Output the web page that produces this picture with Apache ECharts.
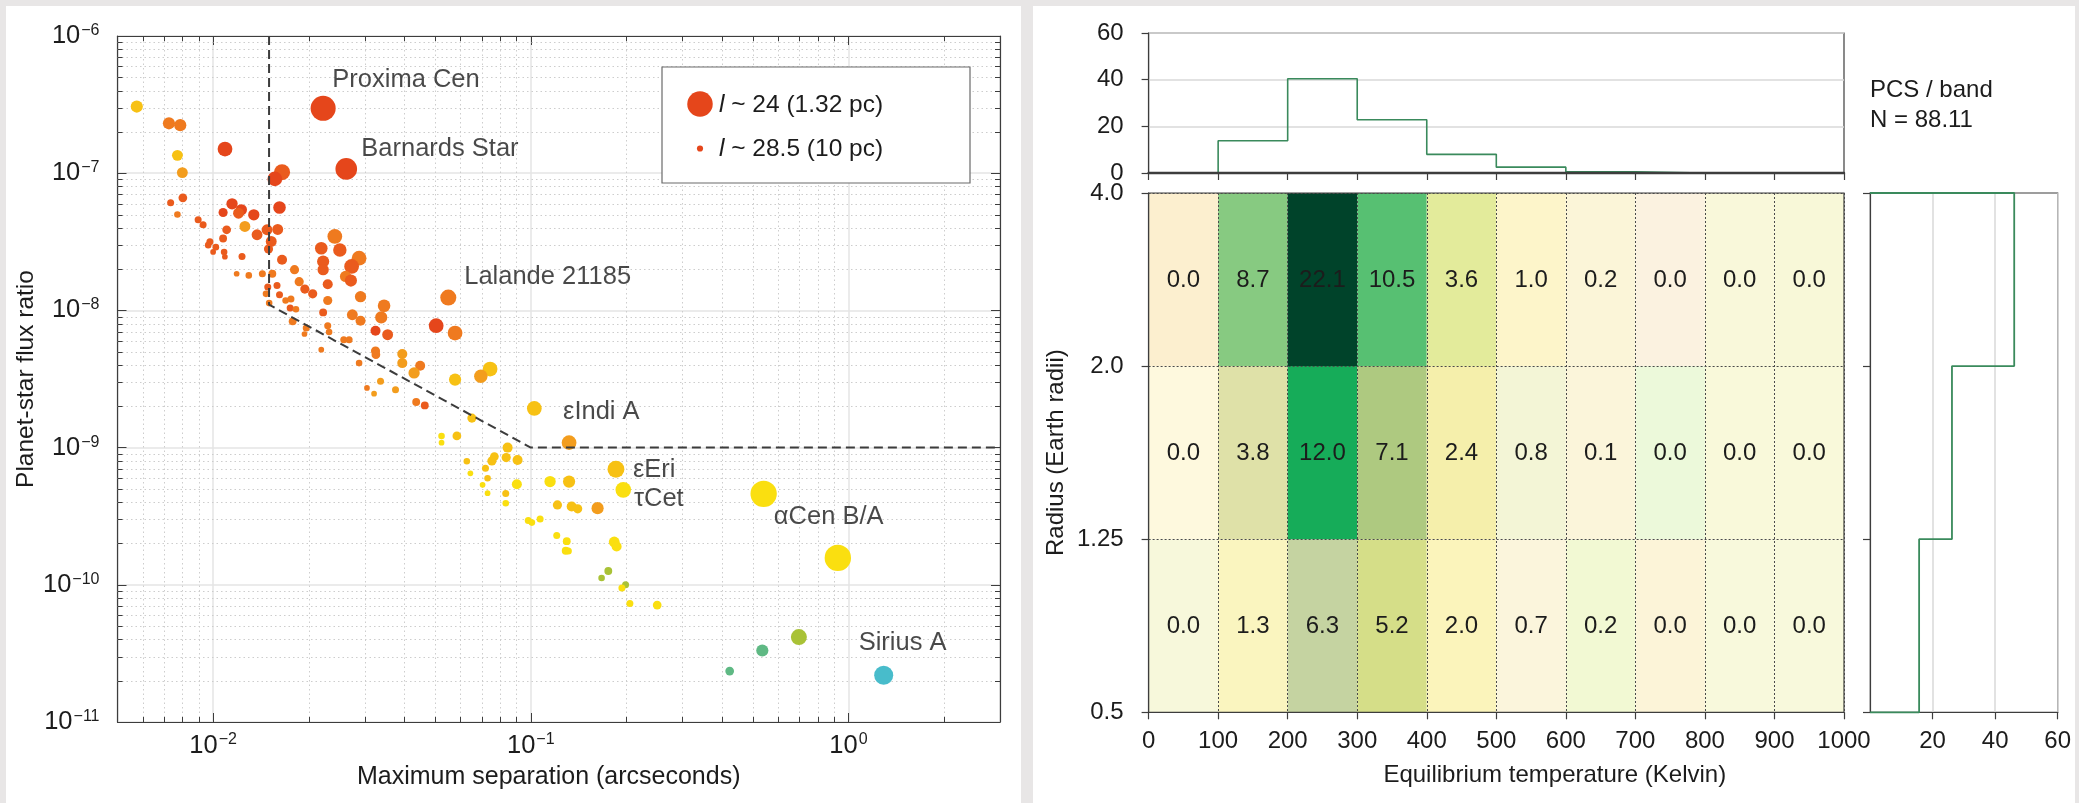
<!DOCTYPE html>
<html>
<head>
<meta charset="utf-8">
<script src="https://cdn.jsdelivr.net/npm/echarts@6/dist/echarts.min.js"></script>
<style>
html,body{margin:0;padding:0;background:#e8e6e6;}
#chart{width:2079px;height:803px;}
</style>
</head>
<body>
<div id="chart"></div>
<script>
// ---------------- DATA ----------------
// Left panel: planet-star flux ratio vs maximum separation
const separation = [
0.00575,0.00726,0.00788,0.00772,0.0109,0.0080,0.0222,0.02625,0.01648,0.01564,
0.01618,0.00735,0.00803,0.00772,0.01147,0.01075,0.01227,0.01202,0.01343,0.00897,
0.0093,0.01103,0.01259,0.01075,0.01375,0.01478,0.01597,0.01524,0.01494,0.00977,
0.00965,0.0102,0.0100,0.01083,0.01089,0.01233,0.01648,0.01186,0.01295,0.01429,
0.01536,0.01804,0.01866,0.01944,0.01486,0.01589,0.01467,0.01618,0.01501,0.01691,
0.01758,0.01748,0.01823,0.0178,0.02058,0.02416,0.02506,0.0219,0.0222,0.0222,
0.02881,0.02729,0.02612,0.02715,0.02295,0.02911,0.02295,0.0222,0.03453,0.02743,
0.02911,0.03382,0.055,0.05037,0.05777,0.03245,0.03543,0.02295,0.02318,0.01964,
0.01939,0.02578,0.0268,0.0219,0.03245,0.03254,0.0394,0.0394,0.04485,0.04292,
0.02881,0.03365,0.03751,0.0305,0.03211,0.04358,0.04638,0.07446,0.06962,0.05777,
0.1026,0.06525,0.05237,0.05237,0.05852,0.08453,0.0629,0.06454,0.072,0.07311,
0.07052,0.07311,0.07543,0.0768,0.08367,0.09087,0.0834,0.0834,0.0904,0.115,
0.0982,0.1008,0.107,0.1207,0.1213,0.132,0.132,0.1345,0.1405,0.1623,
0.1854,0.1955,0.1298,0.1288,0.1313,0.1831,0.1863,0.1754,0.1671,0.1988,
0.1936,0.2051,0.25,0.5408,0.926,0.6982,0.5356,0.4228,1.291
];
const fluxRatio = [
3.06e-7,2.31e-7,2.24e-7,1.35e-7,1.50e-7,1.01e-7,2.97e-7,1.075e-7,1.017e-7,9.09e-8,
5.62e-8,6.08e-8,6.61e-8,5.0e-8,5.98e-8,5.17e-8,5.41e-8,5.11e-8,4.97e-8,4.57e-8,
4.21e-8,3.87e-8,4.09e-8,3.34e-8,3.56e-8,3.87e-8,3.89e-8,3.18e-8,2.80e-8,3.16e-8,
2.99e-8,2.89e-8,2.67e-8,2.66e-8,2.46e-8,2.47e-8,2.34e-8,1.85e-8,1.80e-8,1.85e-8,
1.85e-8,1.98e-8,1.62e-8,1.43e-8,1.48e-8,1.52e-8,1.32e-8,1.30e-8,1.13e-8,1.18e-8,
1.21e-8,1.04e-8,1.02e-8,8.32e-9,1.32e-8,3.46e-8,2.76e-8,2.84e-8,2.27e-8,1.98e-8,
2.40e-8,2.09e-8,1.77e-8,1.65e-8,1.55e-8,1.26e-8,1.18e-8,9.67e-9,1.08e-8,9.30e-9,
8.41e-9,8.89e-9,1.24e-8,7.73e-9,6.84e-9,7.11e-9,6.65e-9,7.73e-9,6.96e-9,7.43e-9,
6.73e-9,6.11e-9,6.11e-9,5.17e-9,5.06e-9,4.76e-9,4.81e-9,4.13e-9,3.95e-9,3.50e-9,
4.13e-9,3.04e-9,2.64e-9,2.72e-9,2.47e-9,2.15e-9,2.03e-9,3.74e-9,3.31e-9,3.13e-9,
1.93e-9,1.64e-9,1.216e-9,1.087e-9,1.216e-9,1.0e-9,7.95e-10,6.50e-10,7.07e-10,5.98e-10,
5.35e-10,4.65e-10,8.0e-10,8.60e-10,8.46e-10,8.13e-10,4.62e-10,3.93e-10,5.41e-10,5.65e-10,
2.94e-10,2.84e-10,3.02e-10,2.29e-10,3.82e-10,1.087e-9,5.65e-10,3.72e-10,3.58e-10,3.62e-10,
6.96e-10,4.92e-10,2.08e-10,1.77e-10,1.76e-10,2.05e-10,1.90e-10,1.26e-10,1.12e-10,1.0e-10,
9.46e-11,7.31e-11,7.11e-11,4.60e-10,1.57e-10,4.16e-11,3.32e-11,2.35e-11,2.19e-11
];
// planet brightness (magnitude "l"), encoded by marker size
const planetMag = [
27.1,27.1,27.1,27.4,26.5,27.4,24.1,24.9,26.2,26.5,
27.0,28.3,27.9,28.4,27.3,27.8,27.3,27.4,27.3,28.3,
28.3,27.9,27.4,28.1,27.4,27.4,27.4,27.4,27.8,28.3,
28.4,28.4,28.6,28.4,28.6,28.3,27.6,28.6,28.4,28.3,
28.1,27.8,27.8,27.8,28.3,28.3,28.4,28.3,28.4,28.4,
28.3,28.3,28.4,28.1,27.8,26.5,26.8,27.0,27.1,27.3,
26.5,26.5,27.3,27.1,27.6,27.3,27.8,28.1,27.0,27.4,
27.6,27.1,26.2,26.5,26.5,27.6,27.4,28.3,28.4,28.3,
28.6,28.3,28.3,28.6,27.8,27.9,27.6,27.6,27.6,27.3,
28.4,28.3,28.3,28.6,28.6,28.1,28.1,26.5,26.8,27.1,
26.5,27.8,28.4,28.6,27.9,27.6,28.4,28.6,28.3,28.4,
28.6,28.6,27.8,27.9,27.8,27.6,28.3,28.4,27.6,27.3,
28.3,28.4,28.3,28.3,27.8,26.5,27.1,27.6,27.8,27.1,
26.0,26.3,28.1,28.1,28.3,27.4,27.6,28.1,28.4,28.3,
28.3,28.3,27.9,23.8,23.8,26.2,27.1,27.9,25.5
];
// host star class (0 = coolest/red ... 8 = hottest/teal), encoded by colour
const starClass = [
4,2,2,4,0,3,0,0,1,0,
0,1,1,2,0,0,0,1,0,1,
1,1,3,1,1,1,1,1,1,1,
1,1,1,1,1,1,1,2,2,2,
2,2,2,1,1,1,2,1,2,2,
2,1,2,2,1,2,1,1,1,1,
2,1,2,1,1,2,2,1,2,2,
2,2,2,0,2,0,1,2,2,2,
2,2,2,2,2,2,3,3,2,3,
2,3,3,2,3,2,1,4,3,4,
4,4,5,5,4,4,4,5,4,4,
5,5,4,4,4,4,4,5,5,5,
5,5,5,5,4,3,4,4,4,3,
4,5,5,5,5,5,5,6,6,6,
5,5,5,5,5,6,7,7,8
];
// named stars (label anchor positions in data units)
const starNames = ['Proxima Cen','Barnards Star','Lalande 21185','\u03b5Indi A','\u03b5Eri','\u03c4Cet','\u03b1Cen B/A','Sirius A'];
const starNameSep = [0.02364,0.02916,0.0615,0.1259,0.2089,0.2104,0.580,1.073];
const starNameFlux = [4.78e-7,1.503e-7,1.757e-8,1.826e-9,6.90e-10,4.25e-10,3.14e-10,3.79e-11];
// dashed detection boundary
const limitSep = [0.015,0.015,0.1,3];
const limitFlux = [1e-6,1.1e-8,1e-9,1e-9];
// legend entries
const legendMags = [24,28.5];
const legendTexts = ['24 (1.32 pc)','28.5 (10 pc)'];

// Right panel: yield per band
const tempEdges = [0,100,200,300,400,500,600,700,800,900,1000];
const radiusEdgeLabels = ['0.5','1.25','2.0','4.0'];
const yieldRows = [
  [0.0,1.3,6.3,5.2,2.0,0.7,0.2,0.0,0.0,0.0],   // 0.5 - 1.25
  [0.0,3.8,12.0,7.1,2.4,0.8,0.1,0.0,0.0,0.0],  // 1.25 - 2.0
  [0.0,8.7,22.1,10.5,3.6,1.0,0.2,0.0,0.0,0.0]  // 2.0 - 4.0
];
const tempHist = [0,13.8,40.4,22.8,8.0,2.5,0.5,0,0,0];
const radiusHist = [15.7,26.2,46.1];
const totalN = 88.11;

// ---------------- STYLE ----------------
const FONT = '"Liberation Sans", Arial, Helvetica, sans-serif';
const TXT = '#1c1c1c';
const AX = '#3d3d3d';
const CLASS_COLORS = ['#e5461b','#ea5b1d','#ef7a1f','#f39d1d','#f7c114','#fadf10','#a9c236','#5fb984','#48bccb'];
const CELL_COLORS = [
  ['#f7f8db','#faf5bf','#c5d3a1','#d5de88','#fbf4bb','#fbf5dc','#f2f9d3','#fcf4d8','#f8f9dc','#f8f9dc'],
  ['#fef9de','#dfe1a8','#16ac59','#aec980','#f5efab','#f3f5d6','#fbf5da','#ecf9da','#f9f9da','#f9f9da'],
  ['#fcefcf','#87ca81','#00432a','#57c072','#e3eb9b','#fdf5ca','#fbf5d8','#fbf2e0','#f9f8da','#f8f8d8']
];
const HIST_GREEN = '#3a8a5c';

function magToSize(m){ return 25.5 - (m - 24) * 4.3; }

function powLabel(v){
  const e = Math.round(Math.log10(v));
  return '{b|10}{s|' + (e < 0 ? '\u2212' + (-e) : String(e)) + '}';
}
const powRich = {
  b:{fontSize:25.5,fontFamily:FONT,color:TXT,lineHeight:27},
  s:{fontSize:16,fontFamily:FONT,color:TXT,lineHeight:16,verticalAlign:'top',padding:[0,0,0,1]}
};

const SEP_RANGE = [0.005,3];
const FLUX_RANGE = [1e-11,1e-6];

function logMinor(params, api){
  const ch = [];
  const bl = api.coord([SEP_RANGE[0], FLUX_RANGE[0]]);
  const tr = api.coord([SEP_RANGE[1], FLUX_RANGE[1]]);
  const dotted = {stroke:'#cdcdcd', lineWidth:1, lineDash:[1.5,3]};
  const tick = {stroke:AX, lineWidth:1};
  for (let e = -3; e <= 0; e++) for (let m = 2; m <= 9; m++) {
    const v = m * Math.pow(10, e);
    if (v <= SEP_RANGE[0] * 1.0001 || v >= SEP_RANGE[1] * 0.9999) continue;
    const x = Math.round(api.coord([v, FLUX_RANGE[0]])[0]) + 0.5;
    ch.push({type:'line', shape:{x1:x,y1:bl[1],x2:x,y2:tr[1]}, style:dotted});
    ch.push({type:'line', shape:{x1:x,y1:bl[1],x2:x,y2:bl[1]-5}, style:tick});
    ch.push({type:'line', shape:{x1:x,y1:tr[1],x2:x,y2:tr[1]+5}, style:tick});
  }
  for (let e = -11; e <= -7; e++) for (let m = 2; m <= 9; m++) {
    const v = m * Math.pow(10, e);
    const y = Math.round(api.coord([SEP_RANGE[0], v])[1]) + 0.5;
    ch.push({type:'line', shape:{x1:bl[0],y1:y,x2:tr[0],y2:y}, style:dotted});
    ch.push({type:'line', shape:{x1:bl[0],y1:y,x2:bl[0]+5,y2:y}, style:tick});
    ch.push({type:'line', shape:{x1:tr[0],y1:y,x2:tr[0]-5,y2:y}, style:tick});
  }
  return {type:'group', children:ch};
}

function cellRender(params, api){
  const c = api.value(0), r = api.value(1), v = api.value(2);
  const p0 = api.coord([tempEdges[c], r]);
  const p1 = api.coord([tempEdges[c+1], r+1]);
  return {type:'group', children:[
    {type:'rect', shape:{x:p0[0], y:p1[1], width:p1[0]-p0[0], height:p0[1]-p1[1]}, style:{fill:CELL_COLORS[r][c]}},
    {type:'text', style:{text:v.toFixed(1), x:(p0[0]+p1[0])/2, y:(p0[1]+p1[1])/2 + 1, align:'center', verticalAlign:'middle', fontSize:24, fontFamily:FONT, fill:TXT}}
  ]};
}

// ---------------- BUILD ----------------
const points = separation.map((s,i)=>[s, fluxRatio[i], planetMag[i], starClass[i]]);
const namePts = starNames.map((n,i)=>({name:n, value:[starNameSep[i], starNameFlux[i]]}));
const limitLine = limitSep.map((s,i)=>[s, limitFlux[i]]);
const cells = [];
yieldRows.forEach((row,r)=>row.forEach((v,c)=>cells.push([c, r, v])));
const tempLine = tempEdges.map((e,k)=>[e, tempHist[Math.min(k, tempHist.length-1)]]);
const radiusLine = [[0,0]].concat(radiusHist.map((v,i)=>[v, i+1])).concat([[0, radiusHist.length]]);

const logAxisLine = {show:true, onZero:false, lineStyle:{color:AX, width:1.2}};
const logTick = {show:true, inside:true, length:9, lineStyle:{color:AX, width:1}};
const outTick = {show:true, inside:false, length:7, lineStyle:{color:AX, width:1.2}};
const linAxisLine = {show:true, onZero:false, lineStyle:{color:AX, width:1.2}};
const lblStyle = {fontSize:24, fontFamily:FONT, color:TXT};
const nameStyle = {fontSize:24.5, fontFamily:FONT, color:TXT};

const legendBoxX = 662, legendBoxY = 67;
const graphics = [
  {type:'rect', z:-100, silent:true, shape:{x:6,y:6,width:1015,height:797}, style:{fill:'#ffffff'}},
  {type:'rect', z:-100, silent:true, shape:{x:1033,y:6,width:1042,height:797}, style:{fill:'#ffffff'}},
  {type:'rect', z:50, silent:true, shape:{x:legendBoxX,y:legendBoxY,width:308,height:116}, style:{fill:'#ffffff', stroke:'#6a6a6a', lineWidth:1.2}}
];
legendMags.forEach((m,i)=>{
  const cy = legendBoxY + 37 + i*44.5;
  graphics.push({type:'circle', z:51, silent:true, shape:{cx:legendBoxX+38, cy:cy, r:magToSize(m)/2}, style:{fill:CLASS_COLORS[0]}});
  graphics.push({type:'text', z:51, silent:true, x:legendBoxX+57, y:cy+1, style:{
    text:'{i|l} ~ ' + legendTexts[i], fontSize:24.5, fontFamily:FONT, fill:TXT, verticalAlign:'middle', align:'left',
    rich:{i:{fontStyle:'italic', fontSize:24.5, fontFamily:FONT, fill:TXT}}
  }});
});
graphics.push({type:'text', z:51, silent:true, x:1870, y:90, style:{text:'PCS / band', fontSize:24, fontFamily:FONT, fill:TXT, verticalAlign:'middle'}});
graphics.push({type:'text', z:51, silent:true, x:1870, y:120, style:{text:'N = ' + totalN.toFixed(2), fontSize:24, fontFamily:FONT, fill:TXT, verticalAlign:'middle'}});

const option = {
  animation:false,
  backgroundColor:'#e8e6e6',
  textStyle:{fontFamily:FONT},
  graphic:graphics,
  grid:[
    {left:117.5, top:36, width:882.5, height:686},
    {left:1148.6, top:33, width:695.4, height:140, show:true, borderColor:AX, borderWidth:1.2, backgroundColor:'transparent'},
    {left:1148.6, top:193, width:695.4, height:519.3, show:true, borderColor:AX, borderWidth:1.2, backgroundColor:'transparent'},
    {left:1870, top:193, width:187.7, height:519.3, show:true, borderColor:AX, borderWidth:1.2, backgroundColor:'transparent'}
  ],
  xAxis:[
    {type:'log', logBase:10, gridIndex:0, min:SEP_RANGE[0], max:SEP_RANGE[1], position:'bottom',
      axisLine:logAxisLine, axisTick:logTick,
      axisLabel:{formatter:powLabel, rich:powRich, margin:10, showMinLabel:false, showMaxLabel:false},
      splitLine:{show:true, lineStyle:{color:'#e4e4e4', width:1.5}},
      name:'Maximum separation (arcseconds)', nameLocation:'middle', nameGap:43,
      nameTextStyle:Object.assign({padding:[0,20,0,0]}, nameStyle, {fontSize:25})},
    {type:'log', logBase:10, gridIndex:0, min:SEP_RANGE[0], max:SEP_RANGE[1], position:'top',
      axisLine:logAxisLine, axisTick:logTick, axisLabel:{show:false}, splitLine:{show:false}},
    {type:'value', gridIndex:1, min:0, max:1000, interval:100, position:'bottom', z:5,
      axisLine:{show:true, onZero:false, lineStyle:{color:AX, width:2.4}}, axisTick:outTick, axisLabel:{show:false}, splitLine:{show:false}},
    {type:'value', gridIndex:2, min:0, max:1000, interval:100, position:'bottom',
      axisLine:linAxisLine, axisTick:outTick,
      axisLabel:Object.assign({margin:17, formatter:v=>String(v)}, lblStyle),
      splitLine:{show:true, lineStyle:{color:'#4a4a4a', width:1, type:[2,2]}},
      name:'Equilibrium temperature (Kelvin)', nameLocation:'middle', nameGap:51,
      nameTextStyle:Object.assign({padding:[0,0,0,117]}, nameStyle, {fontSize:24})},
    {type:'value', gridIndex:3, min:0, max:60, interval:20, position:'bottom',
      axisLine:linAxisLine, axisTick:outTick,
      axisLabel:Object.assign({margin:17, showMinLabel:false, formatter:v=>String(v)}, lblStyle),
      splitLine:{show:true, lineStyle:{color:'#d9d9d9', width:1.5}}}
  ],
  yAxis:[
    {type:'log', logBase:10, gridIndex:0, min:FLUX_RANGE[0], max:FLUX_RANGE[1], position:'left',
      axisLine:logAxisLine, axisTick:logTick,
      axisLabel:{formatter:powLabel, rich:powRich, margin:18},
      splitLine:{show:true, lineStyle:{color:'#e4e4e4', width:1.5}},
      name:'Planet-star flux ratio', nameLocation:'middle', nameGap:78, nameTextStyle:nameStyle},
    {type:'log', logBase:10, gridIndex:0, min:FLUX_RANGE[0], max:FLUX_RANGE[1], position:'right',
      axisLine:logAxisLine, axisTick:logTick, axisLabel:{show:false}, splitLine:{show:false}},
    {type:'value', gridIndex:1, min:0, max:60, interval:20, position:'left',
      axisLine:linAxisLine, axisTick:outTick, axisLabel:Object.assign({margin:25}, lblStyle),
      splitLine:{show:true, lineStyle:{color:'#d9d9d9', width:1.5}}},
    {type:'value', gridIndex:2, min:0, max:3, interval:1, position:'left',
      axisLine:linAxisLine, axisTick:outTick,
      axisLabel:Object.assign({margin:25, formatter:v=>radiusEdgeLabels[Math.round(v)]}, lblStyle),
      splitLine:{show:true, lineStyle:{color:'#4a4a4a', width:1, type:[2,2]}},
      name:'Radius (Earth radii)', nameLocation:'middle', nameGap:80,
      nameTextStyle:Object.assign({}, nameStyle, {fontSize:24})},
    {type:'value', gridIndex:3, min:0, max:3, interval:1, position:'left',
      axisLine:linAxisLine, axisTick:outTick, axisLabel:{show:false}, splitLine:{show:false}}
  ],
  series:[
    {type:'custom', name:'minorGrid', xAxisIndex:0, yAxisIndex:0, data:[[0.01,1e-8]], renderItem:logMinor, z:1, silent:true, clip:false},
    {type:'scatter', name:'planets', xAxisIndex:0, yAxisIndex:0, data:points, z:4, silent:true,
      symbol:'circle', symbolSize:d=>magToSize(d[2]),
      itemStyle:{color:p=>CLASS_COLORS[p.data[3]], opacity:1}},
    {type:'line', name:'limit', xAxisIndex:0, yAxisIndex:0, data:limitLine, symbol:'none', z:5, silent:true,
      lineStyle:{color:'#3c3c3c', width:2, type:[9,5]}},
    {type:'scatter', name:'names', xAxisIndex:0, yAxisIndex:0, data:namePts, z:6, silent:true,
      symbolSize:1, itemStyle:{color:'rgba(0,0,0,0)'},
      label:{show:true, position:'right', distance:0, formatter:p=>p.name, fontSize:25.5, fontFamily:FONT, color:TXT}},
    {type:'line', name:'tempHist', xAxisIndex:2, yAxisIndex:2, data:tempLine, step:'end', symbol:'none', z:3, silent:true, clip:false,
      lineStyle:{color:HIST_GREEN, width:1.6}},
    {type:'custom', name:'yield', xAxisIndex:3, yAxisIndex:3, data:cells, renderItem:cellRender, z:-1, silent:true},
    {type:'line', name:'radiusHist', xAxisIndex:4, yAxisIndex:4, data:radiusLine, step:'end', symbol:'none', z:3, silent:true, clip:false,
      lineStyle:{color:HIST_GREEN, width:1.8}}
  ]
};

const chart = echarts.init(document.getElementById('chart'), null, {renderer:'canvas', width:2079, height:803});
chart.setOption(option);
</script>
</body>
</html>
